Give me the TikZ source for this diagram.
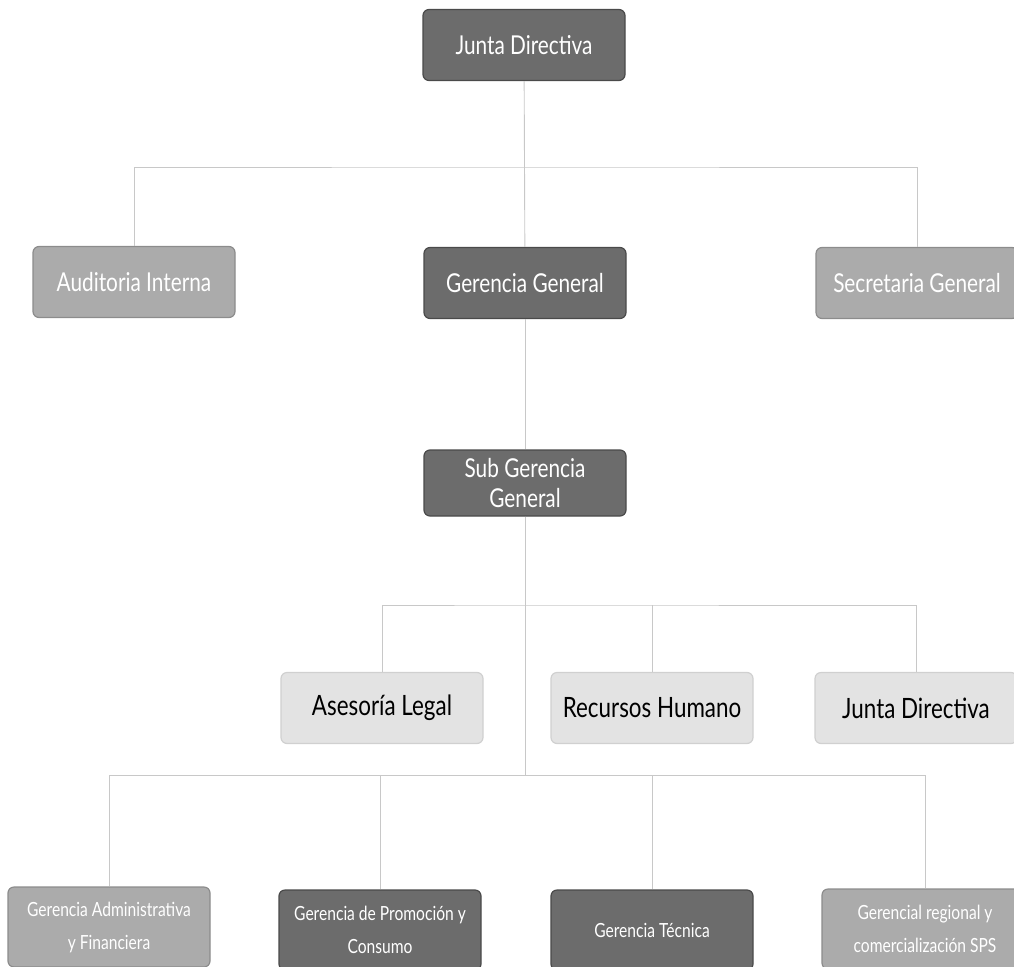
\documentclass[tikz,border=0pt]{standalone}
\usepackage{fontspec}
\setmainfont[FakeStretch=0.8]{Lato}
\usetikzlibrary{positioning}

\definecolor{darkfill}{HTML}{6C6C6C}
\definecolor{darkline}{HTML}{4A4A4A}
\definecolor{midfill}{HTML}{ABABAB}
\definecolor{midline}{HTML}{8C8C8C}
\definecolor{palefill}{HTML}{E3E3E3}
\definecolor{paleline}{HTML}{D0D0D0}
\definecolor{linkgray}{HTML}{C8C8C8}

\begin{document}
\begin{tikzpicture}[
    x=1pt, y=-1pt,
    font=\fontsize{26}{30}\selectfont,
    % Styles
    box/.style={draw, rounded corners=6pt, minimum width=202pt, minimum height=71pt, align=center, inner sep=2pt, line width=1.2pt},
    dark/.style={box, fill=darkfill, draw=darkline, text=white},
    mid/.style={box, fill=midfill, draw=midline, text=white},
    pale/.style={box, fill=palefill, draw=paleline, text=black, font=\fontsize{28}{31}\selectfont},
    small/.style={font=\fontsize{19.5}{33}\selectfont, minimum height=80pt},
    link/.style={draw=linkgray, line width=0.9pt}
]
    \useasboundingbox (0,0) rectangle (1014,966);

    % --- TOP ---
    \node[dark] (jd) at (524,45) {Junta Directiva};

    % --- LEVEL 2 ---
    \coordinate (bus1) at (525,167);
    \node[mid] (ai) at (134,282) {Auditoria Interna};
    \node[dark] (gg) at (525,283) {Gerencia General};
    \node[mid] (sg) at (917,283) {Secretaria General};

    \draw[link] (jd) -- (gg);
    \draw[link] (ai.north) |- (bus1) -| (sg.north);

    % --- SUB GERENCIA ---
    \node[dark, minimum height=66pt] (sgg) at (525,483) {Sub Gerencia\\General};
    \draw[link] (gg) -- (sgg);

    % --- STAFF ---
    \coordinate (bus2) at (525,605);
    \node[pale] (al) at (382,708) {Asesoría Legal};
    \node[pale] (rh) at (652,708) {Recursos Humano};
    \node[pale] (jd2) at (916,708) {Junta Directiva};

    \draw[link] (al.north) |- (bus2) -| (jd2.north);
    \draw[link] (bus2 -| rh) -- (rh.north);

    % --- GERENCIAS ---
    \coordinate (bus3) at (525,775);
    \node[mid, small] (gaf) at (109,927) {Gerencia Administrativa\\y Financiera};
    \node[dark, small] (gpc) at (380,930) {Gerencia de Promoción y\\Consumo};
    \node[dark, small] (gt) at (652,930) {Gerencia Técnica};
    \node[mid, small, minimum width=206pt] (grc) at (925,929) {Gerencial regional y\\comercialización SPS};

    \draw[link] (sgg) -- (bus3);
    \draw[link] (gaf.north) |- (bus3) -| (grc.north);
    \draw[link] (bus3 -| gpc) -- (gpc.north);
    \draw[link] (bus3 -| gt) -- (gt.north);

\end{tikzpicture}
\end{document}
